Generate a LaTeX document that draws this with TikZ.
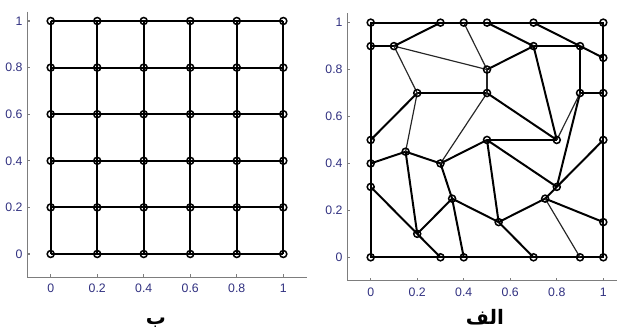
\documentclass[tikz,border=0pt]{standalone}
\usepackage{fontspec}
\setmainfont{Liberation Sans}
\newfontfamily\arabicfont[Script=Arabic]{DejaVu Sans}
\TeXXeTstate=1
\definecolor{ticktext}{RGB}{48,48,128}
\definecolor{axisgray}{RGB}{125,125,125}

\begin{document}
\begin{tikzpicture}[
    axisline/.style={axisgray,line width=1.1pt},
    meshline/.style={black,line width=1.7pt},
    thinline/.style={black!85,line width=1pt},
    marker/.style={black,line width=1.3pt},
    ticklabel/.style={ticktext,font=\fontsize{10.5}{12}\selectfont,inner sep=0pt},
    caption/.style={font=\arabicfont\fontsize{17}{20}\selectfont\bfseries,inner sep=0pt,anchor=base}]
    \useasboundingbox (0,0) rectangle (18.51,9.93);
    % grid
    \begin{scope}[shift={(1.521,2.31)},x=6.978cm,y=6.99cm]
        \draw[axisline] (-0.1,1.04)--(-0.1,-0.1)--(1.1,-0.1);
        \foreach \t [count=\k] in {0,0.2,0.4,0.6,0.8,1}{
            \draw[axisline] (\t,-0.1)--++(0,0.013);
            \draw[axisline] (-0.1,\t)--++(0.013,0);
            \node[ticklabel] (gx\k) at (\t,-0.146) {\t};
            \node[ticklabel,anchor=east] (gy\k) at (-0.12,\t) {\t};
        }
        \foreach \i in {0,...,5}{
            \foreach \j in {0,...,5}{
                \coordinate (g\i\j) at (\i/5,\j/5);
            }
        }
        \foreach \i in {0,...,5}{
            \draw[meshline] (g\i0)--(g\i5);
            \draw[meshline] (g0\i)--(g5\i);
        }
        \foreach \i in {0,...,5}{
            \foreach \j in {0,...,5}{
                \draw[marker] (g\i\j) circle[radius=0.105cm];
            }
        }
    \end{scope}
    % irregular mesh
    \begin{scope}[shift={(11.121,2.211)},x=6.978cm,y=7.04cm]
        \draw[axisline] (-0.1,1.04)--(-0.1,-0.1)--(1.06,-0.1);
        \foreach \t [count=\k] in {0,0.2,0.4,0.6,0.8,1}{
            \draw[axisline] (\t,-0.1)--++(0,0.013);
            \draw[axisline] (-0.1,\t)--++(0.013,0);
            \node[ticklabel] (mx\k) at (\t,-0.147) {\t};
            \node[ticklabel,anchor=east] (my\k) at (-0.12,\t) {\t};
        }
        \foreach \n/\x/\y in {q1/0/0,q2/0.3/0,q3/0.4/0,q4/0.7/0,q5/0.9/0,q6/1/0,
            q7/1/0.15,q8/1/0.5,q9/1/0.7,q10/1/0.85,q11/1/1,
            q12/0.7/1,q13/0.5/1,q14/0.4/1,q15/0.3/1,q16/0/1,
            q17/0/0.9,q18/0/0.5,q19/0/0.4,q20/0/0.3,
            q21/0.1/0.9,q22/0.7/0.9,q23/0.9/0.9,q24/0.5/0.8,q25/0.2/0.7,
            q26/0.5/0.7,q27/0.9/0.7,q28/0.5/0.5,q29/0.8/0.5,q30/0.15/0.45,
            q31/0.3/0.4,q32/0.8/0.3,q33/0.35/0.25,q34/0.75/0.25,q35/0.55/0.15,q36/0.2/0.1}{
            \coordinate (\n) at (\x,\y);
        }
        \draw[meshline] (q1)--(q2)--(q3)--(q4)--(q5)--(q6)--(q7)--(q8)--(q9)--(q10)--(q11)--(q12)
            --(q13)--(q14)--(q15)--(q16)--(q17)--(q18)--(q19)--(q20)--cycle;
        \foreach \a/\b in {q17/q21,q21/q15,q13/q22,q12/q23,q23/q10,q22/q23,q24/q22,q25/q26,
            q22/q29,q23/q27,q27/q9,q26/q29,q25/q18,q28/q29,q28/q31,q8/q32,q28/q32,q28/q35,
            q19/q30,q30/q31,q30/q36,q20/q36,q36/q33,q31/q33,q33/q35,q33/q3,q35/q34,q35/q4,
            q34/q32,q34/q7,q36/q2,q27/q32}{
            \draw[meshline] (\a)--(\b);
        }
        \foreach \a/\b in {q21/q24,q21/q25,q14/q24,q24/q26,q26/q31,q25/q30,q27/q29,q34/q5}{
            \draw[thinline] (\a)--(\b);
        }
        \foreach \n in {1,...,36}{
            \draw[marker] (q\n) circle[radius=0.105cm];
        }
    \end{scope}
    \node[caption] (capb) at (4.68,0.2) {\beginR ب\endR};
    \node[caption] (capa) at (14.55,0.2) {\beginR الف\endR};
\end{tikzpicture}
\end{document}
